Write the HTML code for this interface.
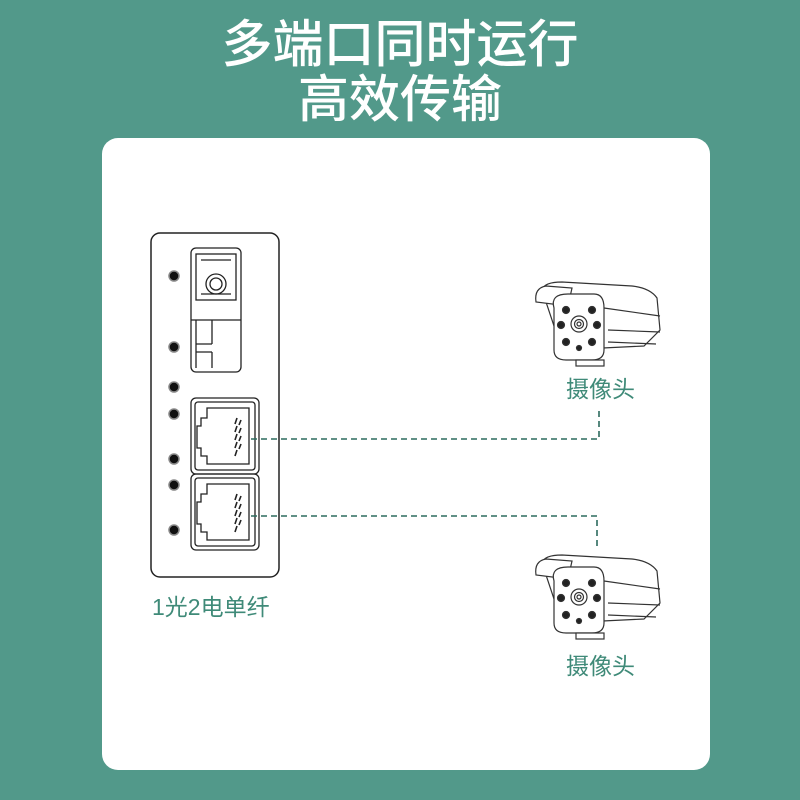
<!DOCTYPE html>
<html><head><meta charset="utf-8"><style>
body{margin:0;width:800px;height:800px;background:#52998a;overflow:hidden;font-family:"Liberation Sans","Noto Sans CJK SC",sans-serif;}
.t{position:absolute;left:0;width:800px;text-align:center;color:#fff;font-size:51px;line-height:56px;font-weight:500;}
.card{position:absolute;left:102px;top:138px;width:608px;height:632px;background:#fff;border-radius:16px;}
.lb{position:absolute;color:#3f8a78;font-size:23px;line-height:28px;}
</style></head><body>
<div class="t" style="top:17px">多端口同时运行</div>
<div class="t" style="top:72px">高效传输</div>
<div class="card"></div>
<svg width="800" height="800" style="position:absolute;left:0;top:0">
<defs>
<g id="cam" stroke="#333" stroke-width="1.2" fill="#fff">
<path d="M10 10 Q12 2 30 2 L100 6 Q118 8 125 18 L128 50 L112 66 L30 70 Z" fill="#fff"/>
<path d="M4 22 Q2 8 14 6 L40 8 L36 26 Z"/>
<path d="M22 28 Q18 14 36 14 L62 14 Q72 14 72 28 L72 70 Q72 80 60 80 L34 80 Q22 80 22 70 Z"/>
<path d="M72 28 L128 36 M76 50 L128 52 M76 62 L124 64"/>
<rect x="44" y="80" width="28" height="6"/>
<circle cx="47" cy="44" r="8"/><circle cx="47" cy="44" r="4.5"/><circle cx="47" cy="44" r="2"/>
<g fill="#222"><circle cx="34" cy="30" r="3.5"/><circle cx="60" cy="30" r="3.5"/><circle cx="29" cy="45" r="3.5"/><circle cx="65" cy="45" r="3.5"/><circle cx="34" cy="62" r="3.5"/><circle cx="60" cy="62" r="3.5"/><circle cx="47" cy="68" r="2.5"/></g>
</g>
<g id="rj" stroke="#222" stroke-width="1.3" fill="none">
<rect x="0" y="0" width="68" height="76" rx="5"/>
<rect x="4" y="4" width="60" height="68" rx="3"/>
<path d="M16 10 L58 10 L58 66 L16 66 L16 58 L10 58 L10 50 L6 50 L6 28 L10 28 L10 20 L16 20 Z"/>
<path d="M46 20 l-2 6 M46 28 l-2 6 M46 36 l-2 6 M46 44 l-2 6 M46 52 l-2 6 M50 22 l-2 5 M50 30 l-2 5 M50 38 l-2 5 M50 46 l-2 5" stroke-width="1.6"/>
</g>
</defs>
<rect x="151" y="233" width="128" height="344" rx="9" fill="#fff" stroke="#222" stroke-width="1.5"/>
<g fill="#111" stroke="#888" stroke-width="1.5">
<circle cx="174" cy="276" r="5"/><circle cx="174" cy="347" r="5"/><circle cx="174" cy="387" r="5"/><circle cx="174" cy="414" r="5"/><circle cx="174" cy="459" r="5"/><circle cx="174" cy="485" r="5"/><circle cx="174" cy="530" r="5"/>
</g>
<g stroke="#222" stroke-width="1.3" fill="none">
<rect x="191" y="248" width="50" height="124" rx="5"/>
<rect x="196" y="254" width="40" height="46"/>
<path d="M201 260 H231 M201 294 H231"/>
<circle cx="216" cy="284" r="10"/><circle cx="216" cy="284" r="6"/>
<path d="M191 320 H241 M196 320 V368 M196 344 H212 M212 320 V344 M196 352 H212 M212 352 V368"/>
</g>
<use href="#rj" x="191" y="398"/>
<use href="#rj" x="191" y="474"/>
<g stroke="#2d6b5e" stroke-width="1.6" fill="none" stroke-dasharray="6 4">
<path d="M251 439 H599 V407"/>
<path d="M251 516 H597 V548"/>
</g>
<use href="#cam" x="532" y="280"/>
<use href="#cam" x="532" y="553"/>
</svg>
<div class="lb" style="left:566px;top:375px">摄像头</div>
<div class="lb" style="left:566px;top:652px">摄像头</div>
<div class="lb" style="left:152px;top:593px">1光2电单纤</div>
</body></html>
